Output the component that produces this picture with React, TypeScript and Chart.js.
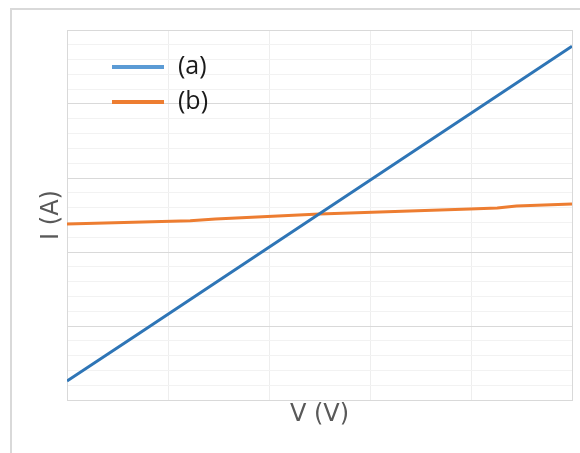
import React, { useEffect, useRef } from "react";
import { Chart, registerables } from "chart.js";

Chart.register(...registerables);

const seriesALabel = "(a)";
const seriesBLabel = "(b)";
const seriesAX = [0, 0.72, 5];
const seriesAY = [0.257, 0.905, 4.78];
const seriesBX = [0, 1.22, 1.47, 2.5, 3.99, 4.26, 4.45, 5];
const seriesBY = [2.378, 2.423, 2.446, 2.514, 2.581, 2.595, 2.62, 2.65];
const xAxisTitle = "V (V)";
const yAxisTitle = "I (A)";

const TITLE_FONT = "'DejaVu Sans', sans-serif";
const LEGEND_FONT = "'Open Sans', sans-serif";
const TITLE_SIZE = 24;
const LEGEND_SIZE = 25;
const LH = TITLE_SIZE * 1.2;
// chart area target: left 67, right 572, top 30, bottom 400
const X_TITLE_PB = 424 - 400 - LH / 2;
const X_SCALE_H = LH + X_TITLE_PB;
const Y_TITLE_CENTER = 51.5;
const Y_LEFT = Y_TITLE_CENTER - LH / 2;
const Y_TITLE_PB = 67 - Y_LEFT - LH;

const frameAndLegend = {
  id: "frameAndLegend",
  beforeDraw(chart: any) {
    const ctx = chart.ctx;
    ctx.save();
    ctx.strokeStyle = "#d9d9d9";
    ctx.lineWidth = 2;
    ctx.beginPath();
    ctx.moveTo(11, 460);
    ctx.lineTo(11, 9);
    ctx.lineTo(590, 9);
    ctx.stroke();
    ctx.restore();
  },
  afterDraw(chart: any) {
    const ctx = chart.ctx;
    const items = [
      { label: chart.data.datasets[0].label, color: "#5b9bd5", y: 67 },
      { label: chart.data.datasets[1].label, color: "#ed7d31", y: 102 },
    ];
    ctx.save();
    for (const it of items) {
      ctx.strokeStyle = it.color;
      ctx.lineWidth = 4;
      ctx.beginPath();
      ctx.moveTo(112, it.y);
      ctx.lineTo(164, it.y);
      ctx.stroke();
      ctx.fillStyle = "#1a1a1a";
      ctx.font = `${LEGEND_SIZE}px ${LEGEND_FONT}`;
      ctx.textBaseline = "middle";
      ctx.textAlign = "left";
      ctx.fillText(it.label, 178, it.y);
    }
    ctx.restore();
  },
};

export default function App() {
  const ref = useRef<HTMLCanvasElement>(null);
  useEffect(() => {
    document.body.style.margin = "0";
    const dataA = seriesAX.map((x, i) => ({ x, y: seriesAY[i] }));
    const dataB = seriesBX.map((x, i) => ({ x, y: seriesBY[i] }));
    const chart = new Chart(ref.current!, {
      type: "line",
      data: {
        datasets: [
          {
            label: seriesALabel,
            data: dataA,
            borderColor: "#2e75b6",
            borderWidth: 3,
            pointRadius: 0,
            tension: 0,
          },
          {
            label: seriesBLabel,
            data: dataB,
            borderColor: "#ed7d31",
            borderWidth: 3,
            pointRadius: 0,
            tension: 0,
          },
        ],
      },
      options: {
        animation: false,
        responsive: false,
        layout: { padding: { left: Y_LEFT, right: 8, top: 30, bottom: 453 - 400 - X_SCALE_H } },
        plugins: { legend: { display: false }, tooltip: { enabled: false } },
        scales: {
          x: {
            type: "linear",
            min: 0,
            max: 5,
            ticks: { display: false, stepSize: 1 },
            grid: {
              drawTicks: false,
              lineWidth: 1,
              color: (c: any) =>
                c.tick && (c.tick.value === 0 || c.tick.value === 5) ? "#d9d9d9" : "#eeeeee",
            },
            border: { display: true, color: "#d9d9d9", width: 1 },
            title: {
              display: true,
              text: xAxisTitle,
              color: "#595959",
              font: { family: TITLE_FONT, size: TITLE_SIZE },
              padding: { top: 0, bottom: X_TITLE_PB },
            },
          },
          y: {
            type: "linear",
            min: 0,
            max: 5,
            ticks: { display: false, stepSize: 0.2 },
            grid: {
              drawTicks: false,
              lineWidth: 1,
              color: (c: any) => {
                const v = c.tick ? c.tick.value : 0;
                return Math.abs(v - Math.round(v)) < 1e-6 ? "#d9d9d9" : "#f2f2f2";
              },
            },
            border: { display: true, color: "#d9d9d9", width: 1 },
            title: {
              display: true,
              text: yAxisTitle,
              color: "#595959",
              font: { family: TITLE_FONT, size: TITLE_SIZE },
              padding: { top: 0, bottom: Y_TITLE_PB },
            },
          },
        },
      },
      plugins: [frameAndLegend],
    });
    return () => chart.destroy();
  }, []);
  return (
    <div style={{ width: 580, height: 453, background: "#fff" }}>
      <canvas ref={ref} width={580} height={453} style={{ display: "block" }} />
    </div>
  );
}
